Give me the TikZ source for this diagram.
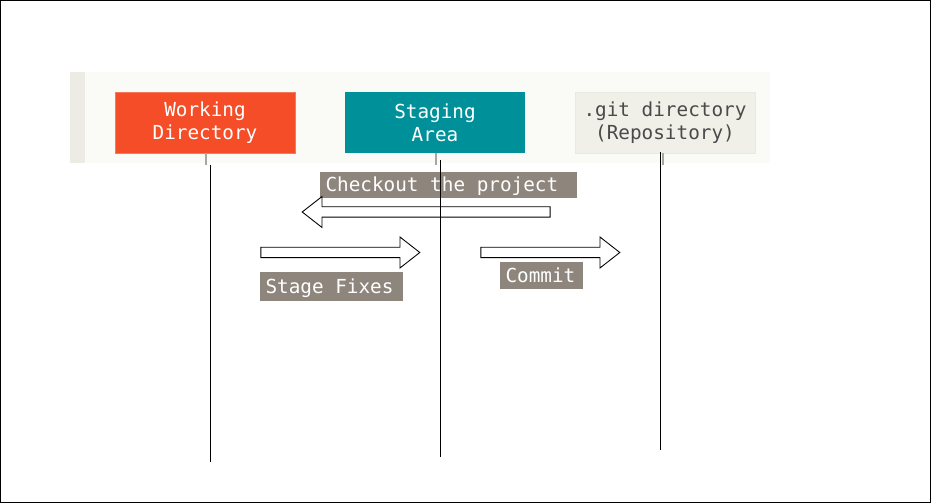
\documentclass[tikz,border=0pt]{standalone}
\usepackage{fontspec}
\setmonofont{DejaVu Sans Mono}
\usepackage{tikz}
\usetikzlibrary{shapes.arrows}
\definecolor{gitred}{HTML}{F44D27}
\definecolor{gitteal}{HTML}{00909A}
\definecolor{repofill}{HTML}{F0EFE8}
\definecolor{bandfill}{HTML}{FAFAF7}
\definecolor{stripfill}{HTML}{ECEBE4}
\definecolor{labelfill}{HTML}{8E857D}
\definecolor{repotext}{HTML}{4A4A4A}
\newcommand{\gitfont}{\ttfamily\fontsize{11}{13}\selectfont
  \fontdimen2\font=0.602em\relax\fontdimen3\font=0pt\relax\fontdimen4\font=0pt\relax}
\begin{document}
\begin{tikzpicture}[x = 0.02cm, y = -0.02cm,
  area/.style = {minimum width = 3.6cm, minimum height = 1.22cm, inner sep = 0pt, align = center, font = \gitfont,
    execute at begin node = {\spaceskip = 0pt\xspaceskip = 0pt}},
  action/.style = {fill = labelfill, text = white, inner xsep = 0.11cm, inner ysep = 0pt, align = left, font = \gitfont,
    text height = 10.5pt, text depth = 2.6pt,
    execute at begin node = {\spaceskip = 0pt\xspaceskip = 0pt}},
  flow/.style = {draw, shape = single arrow, inner sep = 0pt, text height = 0.095cm, text depth = 0.095cm, single arrow head extend = 0.205cm, single arrow tip angle = 76, line width = 0.5pt},
  tick/.style = {draw = gray!70, line width = 0.8pt},
  lifeline/.style = {line width = 0.5pt}]
\useasboundingbox (0,0) rectangle (931,503);
% Background band
\fill[bandfill] (70,72) rectangle (770,163);
\fill[stripfill] (70,72) rectangle (85,163);
% Areas
\node[area, fill = gitred, draw = gitred!75!white, text = white] (wdir) at (205,122.5) {Working\\Directory};
\node[area, fill = gitteal, text = white] (stage) at (435,122.5) {Staging\\Area};
\node[area, fill = repofill, draw = repofill!97!black, text = repotext] (repo) at (665,122.5) {.git directory\\(Repository)};
% Ticks under the areas
\draw[tick] ([xshift = 0.02cm]wdir.south) -- ++(0,12);
\draw[tick] ([xshift = 0.02cm]stage.south) -- ++(0,12);
\draw[tick] ([xshift = -0.04cm]repo.south) -- ++(0,12);
% Actions
\node[action, text width = 4.92cm, minimum height = 0.52cm] (checkout) at (448.5,185) {Checkout the project};
\node[action, text width = 2.64cm, minimum height = 0.58cm] (stagefix) at (331.5,286.5) {Stage Fixes};
\node[action, text width = 1.44cm, minimum height = 0.54cm] (commit) at (541.5,275.5) {Commit};
% Arrows
\node[flow, minimum height = 4.96cm, shape border rotate = 180] (checkoutarrow) at (429.5,212) {};
\node[flow, minimum height = 3.18cm] (stagearrow) at (337,252.5) {};
\node[flow, minimum height = 2.78cm] (commitarrow) at (547,252.5) {};
% Lifelines
\coordinate (wtop) at (210.5,165);
\coordinate (wbot) at (210.5,462);
\coordinate (stop) at (440.5,160);
\coordinate (sbot) at (440.5,457);
\coordinate (rtop) at (660.5,152);
\coordinate (rbot) at (660.5,450);
\draw[lifeline] (wtop) -- (wbot);
\draw[lifeline] (stop) -- (sbot);
\draw[lifeline] (rtop) -- (rbot);
% Frame
\draw[line width = 0.6pt] (0.5,0.5) rectangle (930.5,502.5);
\end{tikzpicture}
\end{document}
